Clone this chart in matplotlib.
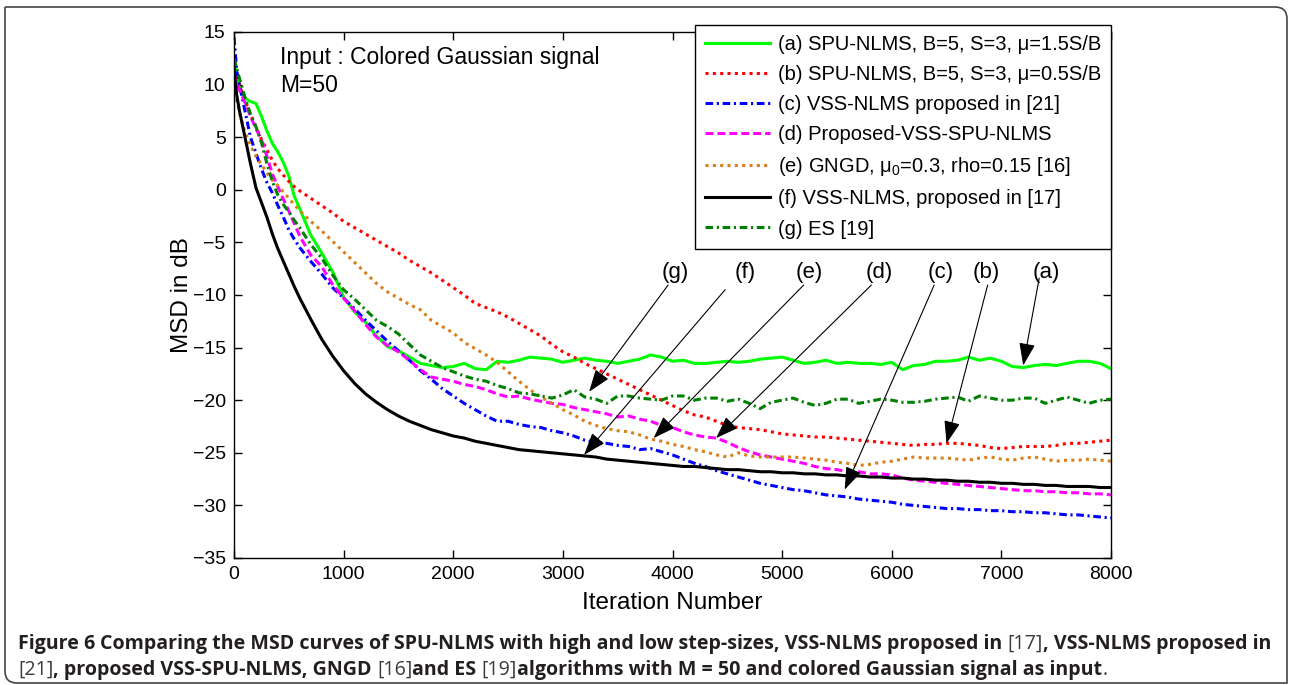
import matplotlib
matplotlib.use('Agg')
import matplotlib.pyplot as plt
from matplotlib.path import Path
from matplotlib.patches import PathPatch
from matplotlib import font_manager

plt.rcParams['font.family'] = ['Liberation Sans', 'DejaVu Sans']
plt.rcParams['mathtext.fontset'] = 'custom'
plt.rcParams['mathtext.rm'] = 'Liberation Sans'
plt.rcParams['mathtext.it'] = 'Liberation Sans:italic'

# Iteration samples of the MSD learning curves
iters = [0, 25, 50, 100, 150, 200, 250, 300, 350, 400, 450, 500, 550] + list(range(600, 8001, 100))

# (a) SPU-NLMS, mu = 1.5S/B
msd_a = [12.5, 11.0, 9.5, 8.7, 8.4, 8.2, 7.0, 5.6, 4.4, 3.6, 2.6, 1.3, -0.6,
         -1.8, -4.3, -6.0, -7.8, -10.2, -11.6, -12.6, -13.9, -14.9, -15.3,
         -15.9, -16.5, -16.7, -16.9, -16.8, -16.5, -17.0, -17.1, -16.3, -16.4,
         -16.2, -15.9, -16.0, -16.1, -16.4, -16.2, -16.0, -16.2, -16.3, -16.5,
         -16.3, -16.1, -15.7, -15.9, -16.3, -16.2, -16.5, -16.5, -16.4, -16.3,
         -16.4, -16.3, -16.1, -16.0, -15.9, -16.2, -16.5, -16.4, -16.2, -16.5,
         -16.4, -16.5, -16.5, -16.6, -16.4, -17.1, -16.7, -16.6, -16.3, -16.3,
         -16.2, -15.9, -16.2, -16.0, -16.3, -16.8, -16.9, -16.7, -16.6, -16.7,
         -16.5, -16.3, -16.3, -16.5, -17.0]

# (b) SPU-NLMS, mu = 0.5S/B
msd_b = [11.5, 10.8, 10.0, 8.5, 7.2, 6.0, 4.8, 3.8, 2.8, 2.0, 1.4, 0.8, 0.3,
         -0.1, -0.8, -1.5, -2.2, -3.0, -3.6, -4.2, -4.8, -5.4, -6.0,
         -6.7, -7.3, -7.9, -8.6, -9.3, -10.0, -10.8, -11.2, -11.6, -12.1,
         -12.7, -13.3, -13.9, -14.7, -15.4, -15.9, -16.5, -17.0, -17.5, -18.0,
         -18.5, -19.0, -19.5, -20.0, -20.5, -21.0, -21.4, -21.6, -22.0, -22.4,
         -22.6, -22.7, -22.8, -23.0, -23.2, -23.3, -23.4, -23.5, -23.5, -23.6,
         -23.7, -23.8, -23.9, -24.0, -24.1, -24.2, -24.3, -24.2, -24.2, -24.1,
         -24.1, -24.2, -24.3, -24.5, -24.6, -24.5, -24.4, -24.4, -24.4, -24.3,
         -24.1, -24.1, -24.0, -23.9, -23.8]

# (c) VSS-NLMS [21]
msd_c = [14.5, 11.3, 10.0, 7.5, 5.0, 3.5, 2.0, 0.7, -0.3, -1.5, -2.6, -3.8, -4.7,
         -5.5, -6.8, -8.0, -9.3, -10.3, -11.3, -12.4, -13.4, -14.4, -15.3,
         -16.2, -17.2, -18.0, -18.9, -19.6, -20.3, -20.9, -21.5, -22.0, -22.0,
         -22.3, -22.5, -22.6, -22.9, -23.1, -23.4, -23.8, -24.0, -24.1, -24.3,
         -24.4, -24.7, -24.6, -24.9, -25.2, -25.6, -26.0, -26.3, -26.7, -27.0,
         -27.3, -27.6, -27.9, -28.1, -28.3, -28.5, -28.6, -28.8, -29.0, -29.1,
         -29.2, -29.4, -29.5, -29.6, -29.7, -29.9, -30.0, -30.1, -30.2, -30.3,
         -30.3, -30.4, -30.4, -30.5, -30.5, -30.6, -30.6, -30.7, -30.7, -30.8,
         -30.9, -30.9, -31.0, -31.1, -31.2]

# (d) proposed VSS-SPU-NLMS
msd_d = [11.0, 10.2, 9.5, 8.3, 7.0, 5.8, 4.8, 3.2, 1.5, 0.3, -0.9, -2.0, -3.2,
         -4.4, -6.2, -7.3, -9.0, -10.3, -11.5, -12.8, -14.0, -14.8, -15.4,
         -16.2, -17.1, -17.8, -18.0, -18.2, -18.5, -18.7, -19.0, -19.4, -19.7,
         -19.6, -19.9, -20.1, -20.3, -20.4, -20.7, -20.9, -21.1, -21.3, -21.6,
         -21.5, -21.8, -22.0, -22.4, -22.6, -23.0, -23.3, -23.5, -23.6, -24.0,
         -24.5, -24.9, -25.2, -25.4, -25.6, -25.8, -26.0, -26.3, -26.5, -26.6,
         -26.8, -26.8, -27.0, -27.0, -27.1, -27.4, -27.6, -27.7, -27.8, -27.9,
         -28.0, -28.1, -28.2, -28.3, -28.4, -28.5, -28.6, -28.6, -28.7, -28.7,
         -28.8, -28.8, -28.9, -28.9, -29.0]

# (e) GNGD
msd_e = [10.0, 8.5, 7.3, 5.5, 4.2, 3.2, 2.4, 1.6, 0.9, 0.4, -0.2, -0.8, -1.4,
         -2.0, -3.0, -3.9, -4.9, -5.9, -6.9, -7.9, -8.9, -9.7, -10.3,
         -10.9, -11.4, -12.4, -13.0, -13.6, -14.5, -15.1, -15.7, -16.4, -17.3,
         -18.2, -19.0, -19.7, -20.3, -20.9, -21.4, -22.0, -22.4, -22.7, -22.9,
         -23.0, -23.3, -23.7, -23.9, -24.2, -24.4, -24.7, -24.9, -25.2, -25.4,
         -25.0, -25.3, -25.4, -25.4, -25.4, -25.4, -25.5, -25.6, -25.7, -25.9,
         -26.0, -26.2, -26.1, -25.9, -25.8, -25.6, -25.4, -25.5, -25.5, -25.5,
         -25.6, -25.7, -25.5, -25.4, -25.6, -25.7, -25.5, -25.4, -25.6, -25.8,
         -25.7, -25.7, -25.6, -25.7, -25.8]

# (f) VSS-NLMS [17]
msd_f = [11.5, 9.0, 7.5, 5.0, 2.5, 0.2, -1.2, -2.6, -4.2, -5.6, -6.8, -8.0, -9.2,
         -10.3, -12.3, -14.2, -15.8, -17.2, -18.4, -19.4, -20.2, -20.9, -21.5,
         -22.0, -22.4, -22.8, -23.1, -23.4, -23.6, -23.9, -24.1, -24.3, -24.5,
         -24.7, -24.8, -24.9, -25.0, -25.1, -25.2, -25.3, -25.4, -25.6, -25.7,
         -25.8, -25.9, -26.0, -26.1, -26.2, -26.3, -26.3, -26.4, -26.5, -26.6,
         -26.6, -26.7, -26.8, -26.8, -26.9, -26.9, -27.0, -27.0, -27.1, -27.1,
         -27.2, -27.2, -27.3, -27.3, -27.4, -27.4, -27.5, -27.5, -27.6, -27.6,
         -27.7, -27.7, -27.8, -27.8, -27.9, -27.9, -28.0, -28.0, -28.1, -28.1,
         -28.2, -28.2, -28.2, -28.3, -28.3]

# (g) ES [19]
msd_g = [12.5, 11.5, 10.6, 8.8, 7.2, 6.0, 4.5, 2.5, 0.8, -0.5, -1.4, -2.1, -2.9,
         -3.6, -5.2, -6.5, -8.1, -9.5, -10.4, -11.4, -12.4, -13.0, -13.7,
         -14.7, -15.7, -16.3, -16.9, -17.3, -17.7, -18.0, -18.2, -18.6, -18.9,
         -19.3, -19.4, -19.6, -19.8, -19.5, -19.0, -19.7, -19.9, -20.3, -19.6,
         -19.6, -19.8, -19.9, -20.0, -19.6, -19.6, -20.0, -19.8, -19.8, -20.1,
         -19.9, -20.3, -20.8, -20.2, -20.0, -19.8, -20.2, -20.5, -20.3, -19.9,
         -19.9, -20.3, -20.1, -19.9, -20.0, -20.2, -20.2, -20.1, -19.9, -19.8,
         -19.7, -20.1, -19.6, -19.8, -20.0, -20.0, -19.8, -19.8, -20.3, -20.0,
         -19.7, -20.0, -20.3, -20.0, -19.9]

legend_labels = [
    '(a) SPU-NLMS, B=5, S=3, \u03bc=1.5S/B',
    '(b) SPU-NLMS, B=5, S=3, \u03bc=0.5S/B',
    '(c) VSS-NLMS proposed in [21]',
    '(d) Proposed-VSS-SPU-NLMS',
    '(e) GNGD, \u03bc$_0$=0.3, rho=0.15 [16]',
    '(f) VSS-NLMS, proposed in [17]',
    '(g) ES [19]',
]

# label, text position, arrow tail, arrow head (iteration, dB)
callouts = [
    ('(g)', (4024, -7.9), (3960, -9.05), (3239, -19.2)),
    ('(f)', (4662, -7.9), (4480, -9.5), (3193, -25.2)),
    ('(e)', (5246, -7.9), (5197, -9.05), (3828, -23.6)),
    ('(d)', (5885, -7.9), (5814, -9.05), (4398, -23.6)),
    ('(c)', (6442, -7.9), (6387, -9.05), (5571, -28.5)),
    ('(b)', (6861, -7.9), (6875, -9.05), (6500, -24.1)),
    ('(a)', (7409, -7.9), (7345, -8.4), (7199, -16.7)),
]

W, H = 1289, 685
fig = plt.figure(figsize=(W / 100, H / 100), dpi=100)
ax = fig.add_axes([234 / W, 1 - 558 / H, 877 / W, 526 / H])

lw = 2.2
series = [
    (msd_a, dict(color=(0.0, 1.0, 0.0), linestyle='-')),
    (msd_b, dict(color=(1.0, 0.0, 0.0), dashes=(1.0, 1.4))),
    (msd_c, dict(color=(0.0, 0.0, 1.0), dashes=(2.5, 1.2, 0.7, 1.2))),
    (msd_d, dict(color=(1.0, 0.0, 1.0), dashes=(2.6, 1.3))),
    (msd_e, dict(color=(0.85, 0.5, 0.1), dashes=(1.0, 1.4))),
    (msd_f, dict(color=(0.0, 0.0, 0.0), linestyle='-')),
    (msd_g, dict(color=(0.0, 0.5, 0.0), dashes=(2.5, 1.2, 0.7, 1.2))),
]
for (vals, style), lab in zip(series, legend_labels):
    ax.plot(iters, vals, lw=lw, label=lab, **style)

ax.set_xlim(0, 8000)
ax.set_ylim(-35, 15)
ax.set_xticks(range(0, 8001, 1000))
ax.set_yticks(range(-35, 16, 5))
ax.tick_params(direction='in', top=True, right=True, length=6, width=1,
               labelsize=14, pad=6)
for s in ax.spines.values():
    s.set_linewidth(1.0)
ax.set_xlabel('Iteration Number', fontsize=17.5, labelpad=6)
ax.set_ylabel('MSD in dB', fontsize=17.5, labelpad=0)

ax.text(420, 12.6, 'Input : Colored Gaussian signal', fontsize=16.5, va='center')
ax.text(420, 9.87, 'M=50', fontsize=16.5, va='center')

for lab, tpos, tail, head in callouts:
    ax.text(tpos[0], tpos[1], lab, fontsize=16, ha='center', va='center')
    ax.annotate('', xy=head, xytext=tail,
                arrowprops=dict(arrowstyle='-|>,head_length=1.4,head_width=0.5',
                                color='black', lw=0.8, shrinkA=0, shrinkB=0))

leg = ax.legend(loc='upper right', bbox_to_anchor=(1111 / W, 1 - 25 / H),
                bbox_transform=fig.transFigure, borderaxespad=0, fontsize=14.5,
                handlelength=3.2, handletextpad=0.4, labelspacing=0.55,
                borderpad=0.5, fancybox=False, framealpha=1, edgecolor='black')
leg.get_frame().set_linewidth(1.0)

# Outer frame with rounded top-right and bottom-left corners
x0, x1 = 5 / W, 1287 / W
y0, y1 = 1 - 683 / H, 1 - 7 / H
rx, ry = 12 / W, 12 / H
verts = [(x0, y1), (x1 - rx, y1), (x1, y1), (x1, y1 - ry), (x1, y0),
         (x0 + rx, y0), (x0, y0), (x0, y0 + ry), (x0, y1)]
codes = [Path.MOVETO, Path.LINETO, Path.CURVE3, Path.CURVE3, Path.LINETO,
         Path.LINETO, Path.CURVE3, Path.CURVE3, Path.LINETO]
fig.patches.append(PathPatch(Path(verts, codes), transform=fig.transFigure,
                             fill=False, edgecolor='#444444', lw=1.2))

# Caption, drawn run by run so the weights can change mid-line
installed = {f.name for f in font_manager.fontManager.ttflist}
cap_family = 'Liberation Sans Narrow' if 'Liberation Sans Narrow' in installed else 'Open Sans'

line1 = [('Figure 6', 'bold', False),
         ('Comparing the MSD curves of SPU-NLMS with high and low step-sizes, VSS-NLMS proposed in', 'bold', True),
         ('[17]', 'normal', True),
         (', VSS-NLMS proposed in', 'bold', False)]
line2 = [('[21]', 'normal', False),
         (', proposed VSS-SPU-NLMS, GNGD', 'bold', False),
         ('[16]', 'normal', True),
         ('and ES', 'bold', False),
         ('[19]', 'normal', True),
         ('algorithms with M = 50 and colored Gaussian signal as input', 'bold', False),
         ('.', 'normal', False)]

renderer = fig.canvas.get_renderer()


def draw_runs(runs, x, y, size):
    probe = fig.text(0, 0, 'a a', fontsize=size, fontweight='bold', family=cap_family)
    probe2 = fig.text(0, 0, 'aa', fontsize=size, fontweight='bold', family=cap_family)
    space = probe.get_window_extent(renderer).width - probe2.get_window_extent(renderer).width
    probe.remove()
    probe2.remove()
    texts = []
    for txt, weight, gap in runs:
        if gap:
            x += space
        color = '#231f20' if weight == 'bold' else '#3a3a3a'
        t = fig.text(x / W, y / H, txt, fontsize=size, fontweight=weight,
                     family=cap_family, color=color, va='baseline')
        x = t.get_window_extent(renderer).x1
        texts.append(t)
    return texts, x


tmp, end = draw_runs(line1, 18, 36, 10)
for t in tmp:
    t.remove()
cap_size = 10 * (1273 - 18) / (end - 18)
draw_runs(line1, 18, 36, cap_size)
draw_runs(line2, 18, 10, cap_size)

fig.savefig('out.png', dpi=100)
plt.close('all')
